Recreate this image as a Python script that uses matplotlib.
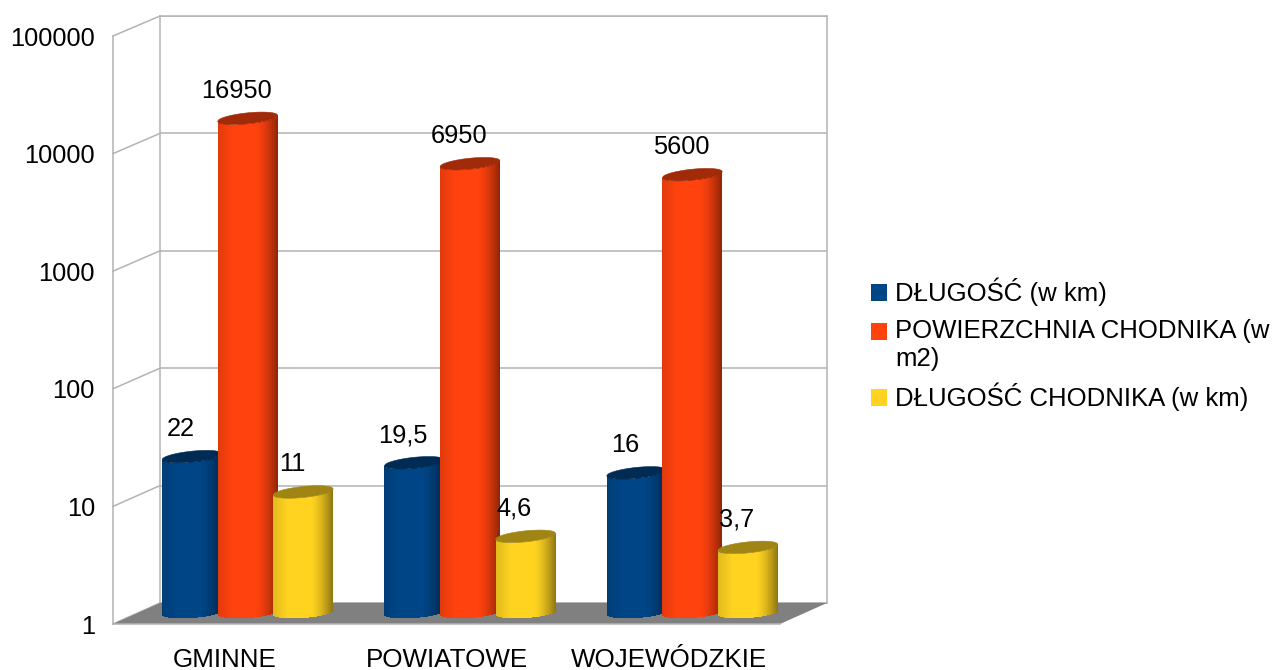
import numpy as np
import matplotlib
matplotlib.use('Agg')
import matplotlib.pyplot as plt
from matplotlib.lines import Line2D
from matplotlib.patches import Patch, Polygon

plt.rcParams['font.family'] = ['Liberation Sans', 'DejaVu Sans']

categories = ['GMINNE', 'POWIATOWE', 'WOJEWÓDZKIE']
dlugosc = [22, 19.5, 16]
powierzchnia = [16950, 6950, 5600]
chodnik = [11, 4.6, 3.7]
series_names = ['DŁUGOŚĆ (w km)', 'POWIERZCHNIA CHODNIKA (w\nm2)', 'DŁUGOŚĆ CHODNIKA (w km)']
series_colors = ['#004586', '#ff420e', '#ffd320']
y_ticks = [1, 10, 100, 1000, 10000, 100000]
y_labels = ['1', '10', '100', '1000', '10000', '100000']

W, H = 1272, 670
GREY = '#b3b3b3'
DECADE = 117.2   # pixels per decade on the bar plane
BAR_W = 0.27
BAR_STEP = 0.25
FS = 18.3


def rect(x0, x1, y_top, y_bottom):
	return [x0/W, 1-y_bottom/H, (x1-x0)/W, (y_bottom-y_top)/H]


def setup(ax):
	ax.set_yscale('log')
	ax.set_ylim(1, 100000)
	ax.set_xlim(-0.5, 2.5)
	ax.patch.set_alpha(0)
	for s in ax.spines.values():
		s.set_visible(False)
	ax.minorticks_off()
	ax.tick_params(which='both', length=0)
	ax.set_xticks([])
	ax.set_yticks([])


def to_fig(ax, x, y):
	p = ax.transData.transform((x, y))
	return fig.transFigure.inverted().transform(p)


def shade(color, u):
	# darker at both sides of the cylinder, mostly on the right
	rgb = np.array(matplotlib.colors.to_rgb(color))
	f = np.where(u < -0.5, 0.88+0.12*(u+1)/0.5, 1.0)
	f = np.where(u > 0.25, 1.0-0.45*(np.clip(u-0.25, 0, 1)/0.75)**1.5, f)
	return rgb*f[:, None]


def cylinder(ax, x, val, color, z):
	n = 60
	edges = np.linspace(-1, 1, n+1)
	mids = (edges[:-1]+edges[1:])/2
	xs = x+edges*BAR_W/2
	b = 5.5
	tilt = 3.0
	arc = np.sqrt(1-edges**2)
	y_low = 10**((1.5+tilt*0.7*edges-b*arc)/DECADE)
	y_top = val*10**((tilt*edges-b*arc)/DECADE)
	y_up = val*10**((tilt*edges+b*arc)/DECADE)
	X = np.vstack([xs, xs])
	Y = np.vstack([y_low, y_top])
	C = shade(color, mids)[None, :, :]
	mesh = ax.pcolormesh(X, Y, C, shading='flat', zorder=z, antialiased=False)
	mesh.set_clip_on(False)
	cap = np.array(matplotlib.colors.to_rgb(color))*0.63
	pts = np.column_stack([np.r_[xs, xs[::-1]], np.r_[y_up, y_top[::-1]]])
	ax.add_patch(Polygon(pts, closed=True, facecolor=cap, edgecolor=cap, linewidth=0.4, zorder=z+0.1))


fig = plt.figure(figsize=(W/100, H/100), dpi=100)

# back wall
wall = fig.add_axes(rect(160, 827, 16, 603), zorder=1)
setup(wall)
for s in wall.spines.values():
	s.set_visible(True)
	s.set_color(GREY)
	s.set_linewidth(1.1)
for t in y_ticks:
	wall.axhline(t, color=GREY, linewidth=1.1)

# front plane carries the axis labels
front = fig.add_axes(rect(113, 780, 36, 624), zorder=2)
setup(front)
front.spines['left'].set_visible(True)
front.spines['left'].set_color(GREY)
front.spines['left'].set_linewidth(1.1)
front.spines['bottom'].set_visible(True)
front.spines['bottom'].set_color(GREY)
front.spines['bottom'].set_linewidth(1.1)
front.set_yticks(y_ticks)
front.set_yticklabels(y_labels, fontsize=FS)
front.set_xticks(range(len(categories)))
front.set_xticklabels(categories, fontsize=18.7)
front.tick_params(axis='y', pad=13)
front.tick_params(axis='x', pad=17.5)

# side wall lines and floor
for t in y_ticks:
	a = to_fig(front, -0.5, t)
	b = to_fig(wall, -0.5, t)
	fig.add_artist(Line2D([a[0], b[0]], [a[1], b[1]], color=GREY, linewidth=1.1, zorder=1.2))
floor = [to_fig(front, -0.5, 1), to_fig(front, 2.5, 1), to_fig(wall, 2.5, 1), to_fig(wall, -0.5, 1)]
fig.add_artist(Polygon(floor, closed=True, facecolor='#808080', edgecolor='none',
	transform=fig.transFigure, zorder=1.5))

# bars
bars = fig.add_axes(rect(136.5, 803.5, 614-5*DECADE, 614), zorder=3)
setup(bars)
all_series = [dlugosc, powierzchnia, chodnik]
for j, vals in enumerate(all_series):
	for i, v in enumerate(vals):
		x = i+(j-1)*BAR_STEP
		cylinder(bars, x, v, series_colors[j], 3+j)
		bars.annotate(str(v).replace('.', ','), (x, v), xytext=(-8, 20),
			textcoords='offset points', ha='center', va='center', fontsize=FS,
			color='black', zorder=10, annotation_clip=False)
bars.set_xlim(-0.5, 2.5)
bars.set_ylim(1, 100000)

handles = [Patch(facecolor=c, edgecolor='none') for c in series_colors]
leg = fig.legend(handles, series_names, loc='upper left', bbox_to_anchor=(871/W, 1-278/H),
	frameon=False, fontsize=18.5, handlelength=0.62, handleheight=0.62,
	handletextpad=0.33, labelspacing=0.48, borderpad=0, borderaxespad=0)
# the two line entry has its marker next to the first line
p = leg.get_patches()[1]
p.set_y(p.get_y()+10)

fig.savefig('out.png', dpi=100)
plt.close(fig)
